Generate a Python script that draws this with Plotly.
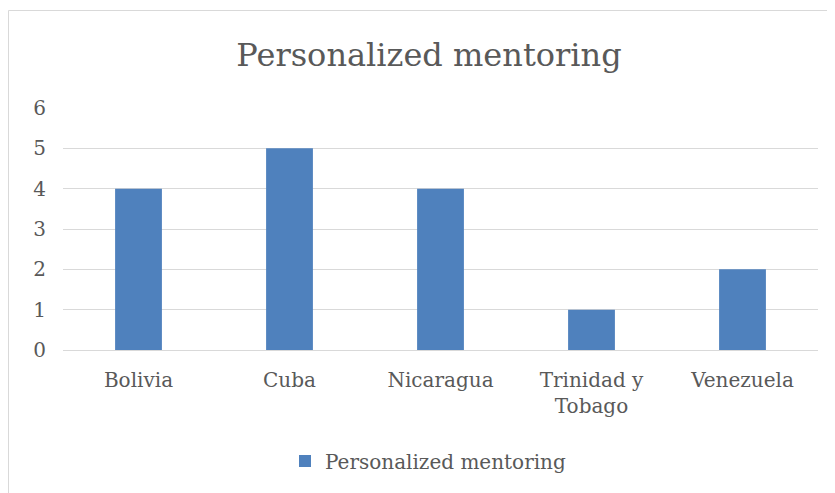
import plotly.graph_objects as go

categories = ["Bolivia", "Cuba", "Nicaragua", "Trinidad y<br>Tobago", "Venezuela"]
values = [4, 5, 4, 1, 2]
series_name = "Personalized mentoring"
title_text = "Personalized mentoring"
y_ticks = [0, 1, 2, 3, 4, 5, 6]

FONT = "DejaVu Serif"
GREY = "#595959"

# the page places the figure 8px in from the top-left corner
OFF = 8
W, H = 835, 493
L, R, T, B = 63 - OFF, 25, 108 - OFF, 151
pw, ph = W - L - R, H - T - B

fig = go.Figure()
fig.add_trace(go.Bar(
    x=categories, y=values, name=series_name,
    marker=dict(color="#4f81bd", line=dict(width=0)),
    width=0.31,
))

def px_x(p):
    return (p - OFF - L) / pw

def px_y(p):
    return (H - B - (p - OFF)) / ph

fig.update_layout(
    width=W, height=H,
    margin=dict(l=L, r=R, t=T, b=B),
    paper_bgcolor="white", plot_bgcolor="white",
    font=dict(family=FONT, color=GREY, size=20),
    title=dict(text=title_text, x=px_x(429), xanchor="center", xref="paper",
               y=1 - (55 - OFF) / H, yref="container", yanchor="middle",
               font=dict(family=FONT, size=32, color=GREY)),
    showlegend=True,
    legend=dict(orientation="h", x=px_x(285), xref="paper", xanchor="left",
                y=px_y(461), yref="paper", yanchor="middle",
                font=dict(family=FONT, size=20, color=GREY),
                itemwidth=30),
    xaxis=dict(showgrid=False, showline=True, linecolor="#d9d9d9", linewidth=1,
               ticks="", ticklabelstandoff=12,
               tickfont=dict(family=FONT, size=20, color=GREY)),
    yaxis=dict(range=[0, 6], tickvals=y_ticks, showgrid=True, gridcolor="#d9d9d9",
               gridwidth=1, zeroline=False, showline=False, ticks="",
               ticklabelstandoff=16,
               tickfont=dict(family=FONT, size=20, color=GREY)),
    shapes=[dict(type="rect", xref="paper", yref="paper",
                 x0=px_x(8.5), x1=px_x(850), y0=px_y(510), y1=px_y(10.5),
                 line=dict(color="#d9d9d9", width=1), layer="below")],
)

fig.write_html("out.html")
